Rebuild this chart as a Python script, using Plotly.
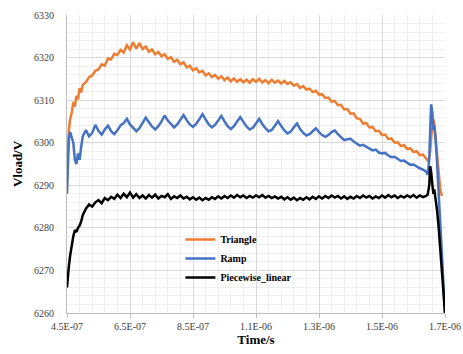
import plotly.graph_objects as go

# sample times in ns
time_ns = [
    450, 453, 456, 460, 465, 470, 475, 480, 485, 490, 495, 500,
    510, 520, 530, 540, 550, 560, 570, 580, 590, 600,
    610, 620, 630, 640, 650, 660, 670, 680, 690, 700,
    710, 720, 730, 740, 750, 760, 770, 780, 790, 800,
    810, 820, 830, 840, 850, 860, 870, 880, 890, 900,
    910, 920, 930, 940, 950, 960, 970, 980, 990, 1000,
    1010, 1020, 1030, 1040, 1050, 1060, 1070, 1080, 1090, 1100,
    1110, 1120, 1130, 1140, 1150, 1160, 1170, 1180, 1190, 1200,
    1210, 1220, 1230, 1240, 1250, 1260, 1270, 1280, 1290, 1300,
    1310, 1320, 1330, 1340, 1350, 1360, 1370, 1380, 1390, 1400,
    1410, 1420, 1430, 1440, 1450, 1460, 1470, 1480, 1490, 1500,
    1510, 1520, 1530, 1540, 1550, 1560, 1570, 1580, 1590,
    1595, 1600, 1603, 1606, 1610, 1613, 1616, 1620, 1625, 1630, 1635, 1640, 1645, 1650,
]

triangle = [
    6294, 6299, 6303, 6305.5, 6307, 6309.5, 6308.5, 6311, 6310.2, 6312.8, 6311.8, 6313.6,
    6314.2, 6315.4, 6315.8, 6316.9, 6317.2, 6318.4, 6318.1, 6319.8, 6319.6, 6320.9,
    6320.6, 6321.8, 6321.2, 6322.9, 6321.9, 6323.6, 6322.1, 6323.4, 6322.0, 6322.6,
    6321.4, 6321.9, 6320.8, 6321.3, 6320.3, 6320.8, 6319.7, 6320.1, 6319.0, 6319.5,
    6318.4, 6318.9, 6317.7, 6318.1, 6317.0, 6317.5, 6316.5, 6316.9, 6315.8, 6316.3,
    6315.4, 6315.9, 6315.0, 6315.6, 6314.7, 6315.3, 6314.4, 6315.1, 6314.3, 6314.9,
    6314.2, 6314.8, 6314.1, 6314.9, 6314.3, 6315.0, 6314.2, 6314.7, 6314.0, 6314.8,
    6314.1, 6314.6, 6313.9, 6314.5, 6313.8, 6314.2, 6313.4, 6313.8, 6312.9, 6313.3,
    6312.5, 6312.7, 6311.9, 6312.2, 6311.3, 6311.4, 6310.5, 6310.6, 6309.6, 6309.8,
    6308.8, 6308.9, 6307.8, 6307.9, 6306.8, 6306.9, 6305.7, 6305.6, 6304.5, 6304.6,
    6303.6, 6303.7, 6302.7, 6302.8, 6301.8, 6301.9, 6300.9, 6301.0, 6300.0, 6300.1,
    6299.2, 6299.4, 6298.5, 6298.7, 6297.8, 6298.0, 6297.1, 6297.2, 6296.3,
    6295.8, 6296.5, 6298, 6301, 6304, 6305.5, 6304.5, 6301.5, 6297, 6292.5, 6289, 6287.5, None, None,
]

ramp = [
    6288, 6296, 6301, 6302.5, 6301, 6300, 6296, 6295, 6297.5, 6296, 6299, 6301.5,
    6303, 6301.5, 6302.3, 6304.2, 6302.8, 6301.9, 6303.1, 6304.0, 6302.7, 6302.0,
    6302.9, 6304.1, 6304.6, 6305.6, 6304.3, 6303.4, 6302.7, 6303.4, 6304.6, 6305.9,
    6304.8, 6303.8, 6303.1, 6303.9, 6305.0, 6306.4, 6305.2, 6304.3, 6303.6, 6304.3,
    6305.4, 6306.5, 6305.3, 6304.3, 6303.7, 6304.4, 6305.5, 6306.7, 6305.5, 6304.3,
    6303.6, 6304.2, 6305.2, 6306.3, 6305.0, 6303.9, 6303.2, 6303.9, 6305.0, 6306.0,
    6304.9, 6303.8, 6303.1, 6303.5, 6304.5, 6305.6, 6304.4, 6303.4, 6302.7, 6303.0,
    6304.0, 6305.1, 6303.9, 6302.9, 6302.2, 6302.6, 6303.6, 6304.5, 6303.2, 6302.3,
    6301.7, 6302.0, 6302.7, 6303.4, 6302.5, 6301.8, 6301.4, 6301.8, 6302.5, 6302.9,
    6302.0, 6301.2, 6300.6, 6300.8, 6300.9, 6300.3, 6299.7, 6299.3, 6299.5, 6299.1,
    6298.6, 6298.2, 6298.4, 6297.7, 6297.5, 6297.6, 6297.0, 6296.6, 6296.7, 6296.2,
    6295.7, 6295.8, 6295.2, 6294.8, 6294.9, 6294.4, 6294.0, 6293.7, 6293.2,
    6292.5, 6296, 6303, 6309, 6307, 6303, 6304, 6301, 6295, 6288, 6280, 6272, 6265, 6260,
]

piecewise_linear = [
    6266, 6269, 6271, 6273.5, 6276, 6278, 6279.5, 6279, 6280, 6280.5, 6281.5, 6283,
    6284.5, 6285.5, 6285, 6286, 6286.5, 6285.8, 6287, 6286.5, 6287.3, 6286.8,
    6287.8, 6287, 6288, 6287.2, 6288.3, 6287.1, 6287.9, 6287, 6287.6, 6286.9,
    6287.7, 6287.1, 6287.8, 6286.9, 6287.5, 6287.2, 6287.9, 6286.8, 6287.4, 6287.0,
    6287.6, 6286.9, 6287.3, 6286.7, 6287.2, 6286.6, 6287.1, 6286.5, 6287.0, 6286.6,
    6287.2, 6286.8, 6287.4, 6286.9, 6287.5, 6287.0, 6287.6, 6287.1, 6287.7, 6287.2,
    6287.6, 6287.0, 6287.5, 6287.1, 6287.6, 6287.2, 6287.7, 6287.1, 6287.5, 6287.0,
    6287.4, 6286.9, 6287.3, 6286.7, 6287.2, 6286.6, 6287.1, 6286.5, 6287.0, 6286.6,
    6287.2, 6286.7, 6287.3, 6286.8, 6287.4, 6286.9, 6287.5, 6287.0, 6287.6, 6287.1,
    6287.5, 6286.9, 6287.4, 6286.8, 6287.3, 6286.9, 6287.5, 6287.0, 6287.6, 6287.1,
    6287.5, 6286.9, 6287.4, 6287.0, 6287.6, 6287.1, 6287.7, 6287.2, 6287.6, 6287.0,
    6287.5, 6287.1, 6287.6, 6287.2, 6287.7, 6287.1, 6287.6, 6287.2, 6287.5,
    6287.8, 6290, 6294.5, 6293, 6290, 6288, 6289, 6287, 6284, 6280, 6275, 6270, 6265, 6260,
]

x_tickvals = [450, 650, 850, 1050, 1250, 1450, 1650]
x_ticktext = ["4.5E-07", "6.5E-07", "8.5E-07", "1.1E-06", "1.3E-06", "1.5E-06", "1.7E-06"]

SERIF = "Liberation Serif"

fig = go.Figure()
fig.add_trace(go.Scatter(x=time_ns, y=triangle, mode="lines", name="Triangle",
                         line=dict(color="#ED7D31", width=2.5)))
fig.add_trace(go.Scatter(x=time_ns, y=ramp, mode="lines", name="Ramp",
                         line=dict(color="#4472C4", width=2.5)))
fig.add_trace(go.Scatter(x=time_ns, y=piecewise_linear, mode="lines", name="Piecewise_linear",
                         line=dict(color="#000000", width=2.5)))

fig.update_layout(
    width=463, height=354,
    margin=dict(l=67, r=18, t=15, b=41),
    paper_bgcolor="white", plot_bgcolor="white",
    font=dict(family=SERIF, color="#404040", size=10),
    showlegend=True,
    legend=dict(x=0.30, y=0.295, xanchor="left", yanchor="top",
                bgcolor="rgba(0,0,0,0)", tracegroupgap=0, itemwidth=30,
                font=dict(family=SERIF, size=10, color="#000000", weight="bold")),
)
fig.update_xaxes(
    range=[450, 1650], tickmode="array", tickvals=x_tickvals, ticktext=x_ticktext,
    tickfont=dict(family=SERIF, size=10, color="#404040"),
    showgrid=True, gridcolor="#d9d9d9", gridwidth=1,
    minor=dict(tick0=450, dtick=40, showgrid=True, gridcolor="#efefef"),
    showline=True, linecolor="#bfbfbf", zeroline=False, automargin=False,
    ticks="outside", ticklen=4, tickcolor="#bfbfbf",
    title=dict(text="Time/s", font=dict(family=SERIF, size=13, color="#000000", weight="bold"),
               standoff=0),
)
fig.update_yaxes(
    range=[6260, 6330], dtick=10, tick0=6260,
    tickfont=dict(family=SERIF, size=10, color="#404040"),
    showgrid=True, gridcolor="#d9d9d9", gridwidth=1,
    minor=dict(dtick=2, showgrid=True, gridcolor="#efefef"),
    showline=True, linecolor="#bfbfbf", zeroline=False, automargin=False,
    ticklabelstandoff=10,
    title=dict(text="Vload/V", font=dict(family=SERIF, size=13, color="#000000", weight="bold"),
               standoff=8),
)

# the default page has an 8px body margin; drop it so the figure fills the window
fig.write_html("out.html", config={"displayModeBar": False},
               post_script="document.body.style.margin='0px';")
